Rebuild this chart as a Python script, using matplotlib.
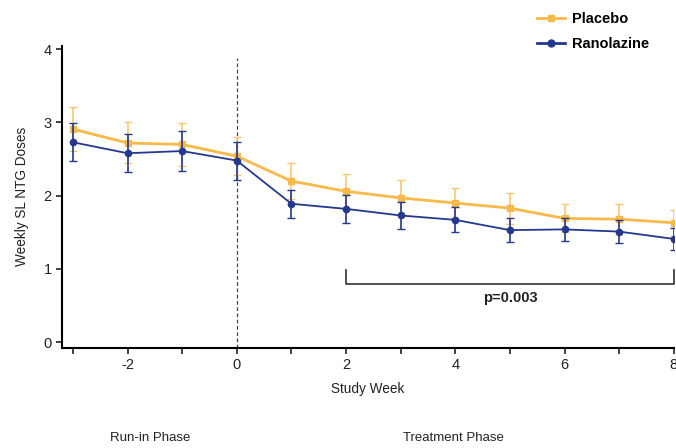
import matplotlib
matplotlib.use("Agg")
import matplotlib.pyplot as plt
from matplotlib.lines import Line2D

plt.rcParams['font.family'] = ['Liberation Sans', 'DejaVu Sans']

weeks = [-3, -2, -1, 0, 1, 2, 3, 4, 5, 6, 7, 8]
placebo = [2.91, 2.72, 2.70, 2.54, 2.20, 2.06, 1.97, 1.90, 1.83, 1.69, 1.68, 1.63]
placebo_se = [0.30, 0.28, 0.29, 0.26, 0.25, 0.24, 0.24, 0.21, 0.21, 0.19, 0.20, 0.18]
ranolazine = [2.73, 2.58, 2.61, 2.48, 1.89, 1.82, 1.73, 1.67, 1.53, 1.54, 1.51, 1.41]
ranolazine_se = [0.26, 0.26, 0.27, 0.26, 0.19, 0.19, 0.18, 0.17, 0.16, 0.16, 0.16, 0.15]
p_text = "p=0.003"

orange = "#F8B94B"
blue = "#24388F"
txt = "#222222"

fig = plt.figure(figsize=(6.76, 4.48), dpi=100)
ax = fig.add_axes([0.0917, 0.2232, 0.905, 0.675])

ax.errorbar(weeks, placebo, yerr=placebo_se, color=orange, marker="s",
            markersize=5, linewidth=2, elinewidth=1.2, capsize=3,
            ecolor="#F9C870", zorder=2)
ax.errorbar(weeks, ranolazine, yerr=ranolazine_se, color=blue, marker="o",
            markersize=4.5, linewidth=1.3, elinewidth=1.2, capsize=3,
            zorder=3)

ax.plot([0, 0], [-0.08, 3.88], linestyle=(0, (3, 2)), color="#444444",
        linewidth=0.9, zorder=1)

# significance bracket over the treatment weeks
ax.plot([2, 2, 8, 8], [0.99, 0.80, 0.80, 0.99], color="#333333",
        linewidth=1.2, clip_on=False)
ax.text(5, 0.60, p_text, ha="center", va="center", fontsize=10.5,
        fontweight="bold", color=txt)

ax.set_xlim(-3.2, 8.0)
ax.set_ylim(-0.08, 4.05)
ax.set_xticks(range(-3, 9))
ax.set_xticklabels([str(w) if w % 2 == 0 else "" for w in range(-3, 9)])
ax.set_yticks([0, 1, 2, 3, 4])
ax.tick_params(direction="out", length=4, width=1.2, labelsize=10.5,
               colors=txt)
ax.spines["top"].set_visible(False)
ax.spines["right"].set_visible(False)
ax.spines["left"].set_linewidth(1.5)
ax.spines["bottom"].set_linewidth(1.5)

ax.set_xlabel("Study Week", fontsize=9.8, color=txt, labelpad=7)
ax.set_ylabel("Weekly SL NTG Doses", fontsize=9.8, color=txt, labelpad=10)

handles = [
    Line2D([], [], color=orange, marker="s", markersize=5, linewidth=2),
    Line2D([], [], color=blue, marker="o", markersize=5, linewidth=2),
]
fig.legend(handles, ["Placebo", "Ranolazine"], loc="upper left",
           bbox_to_anchor=(0.775, 1.003), frameon=False,
           prop={"weight": "bold", "size": 10.5}, handlelength=1.9,
           labelspacing=0.8, handletextpad=0.5)

fig.text(150 / 676, 1 - 438 / 448, "Run-in Phase", ha="center",
         va="center", fontsize=9.5, color=txt)
fig.text(453 / 676, 1 - 438 / 448, "Treatment Phase", ha="center",
         va="center", fontsize=9.5, color=txt)

fig.savefig("out.png", dpi=100)
